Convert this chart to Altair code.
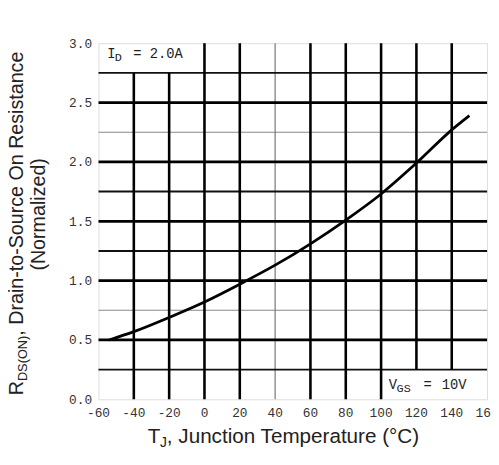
import altair as alt
import pandas as pd

# ---- data ----
temp_c = [-54, -40, -20, 0, 20, 40, 60, 80, 100, 120, 140, 150]
rds_norm = [0.50, 0.57, 0.69, 0.82, 0.97, 1.13, 1.31, 1.51, 1.73, 1.99, 2.27, 2.39]

x_ticks = [-60, -40, -20, 0, 20, 40, 60, 80, 100, 120, 140, 160]
y_ticks = [0.0, 0.5, 1.0, 1.5, 2.0, 2.5, 3.0]

# vertical grid lines (x value, lower / upper y extent in data units)
vgrid_x = [-40, -20, 0, 20, 60, 80, 100, 120, 140]
vgrid_lo = [0, 0, 0, 0, 0, 0, 0, 0.25, 0.25]
vgrid_hi = [2.75, 2.75, 3, 3, 3, 3, 3, 3, 3]
vgrid_light_x = [40]

hgrid_major = [0.5, 1.0, 1.5, 2.0, 2.5]
hgrid_minor = [0.25, 1.25, 1.75, 2.75]
hgrid_light = [0.75, 2.25]

X_MIN, X_MAX = -60, 160
Y_MIN, Y_MAX = 0, 3

curve_df = pd.DataFrame({"T": temp_c, "R": rds_norm})
xt_df = pd.DataFrame({"v": x_ticks, "label": [str(v) for v in x_ticks]})
vg_df = pd.DataFrame({"x": vgrid_x, "lo": vgrid_lo, "hi": vgrid_hi})
vl_df = pd.DataFrame({"x": vgrid_light_x, "lo": [Y_MIN], "hi": [Y_MAX]})
hmaj_df = pd.DataFrame({"y": hgrid_major, "x0": X_MIN, "x1": X_MAX})
hmin_df = pd.DataFrame({"y": hgrid_minor, "x0": X_MIN, "x1": X_MAX})
hl_df = pd.DataFrame({"y": hgrid_light, "x0": X_MIN, "x1": X_MAX})

xs = alt.Scale(domain=[X_MIN, X_MAX], nice=False, zero=False)
ys = alt.Scale(domain=[Y_MIN, Y_MAX], nice=False)

yaxis = alt.Axis(values=y_ticks, format=".1f", grid=False, ticks=False, domain=False,
                 title=None, labelFont="Liberation Mono", labelFontSize=13,
                 labelColor="#333", labelPadding=7, labelOverlap=False)

base_axes = alt.Chart(curve_df).mark_point(opacity=0).encode(
    x=alt.X("T:Q", scale=xs, axis=None),
    y=alt.Y("R:Q", scale=ys, axis=yaxis),
)

# x tick labels drawn through the x scale
xlabels = alt.Chart(xt_df).mark_text(font="Liberation Mono", fontSize=13, color="#333",
                                     baseline="middle", align="center").encode(
    x=alt.X("v:Q", scale=xs), y=alt.value(375.5), text="label:N")

vgrid = alt.Chart(vg_df).mark_rule(color="black", strokeWidth=2.6).encode(
    x=alt.X("x:Q", scale=xs), y=alt.Y("lo:Q", scale=ys), y2="hi:Q")
vlight = alt.Chart(vl_df).mark_rule(color="#777", strokeWidth=1.2).encode(
    x=alt.X("x:Q", scale=xs), y=alt.Y("lo:Q", scale=ys), y2="hi:Q")
hmaj = alt.Chart(hmaj_df).mark_rule(color="black", strokeWidth=2.8).encode(
    y=alt.Y("y:Q", scale=ys), x=alt.X("x0:Q", scale=xs), x2="x1:Q")
hmin = alt.Chart(hmin_df).mark_rule(color="#111", strokeWidth=2).encode(
    y=alt.Y("y:Q", scale=ys), x=alt.X("x0:Q", scale=xs), x2="x1:Q")
hl = alt.Chart(hl_df).mark_rule(color="#888", strokeWidth=1.2).encode(
    y=alt.Y("y:Q", scale=ys), x=alt.X("x0:Q", scale=xs), x2="x1:Q")

curve = alt.Chart(curve_df).mark_line(color="black", strokeWidth=2.8,
                                      interpolate="monotone").encode(
    x=alt.X("T:Q", scale=xs), y=alt.Y("R:Q", scale=ys))


def txt(s, x, y, size, font="Liberation Sans", align="left", angle=0, color="#222"):
    kw = dict(align=align, baseline="alphabetic", font=font, fontSize=size, color=color)
    if angle:
        kw["angle"] = angle
    return alt.Chart(alt.Data(values=[{}])).mark_text(**kw).encode(
        x=alt.value(x), y=alt.value(y), text=alt.value(s))


MONO = "Liberation Mono"
texts = [
    # x-axis title
    txt("T", 50, 406, 21),
    txt("J", 62.5, 410.5, 14),
    txt(", Junction Temperature (°C)", 69.5, 406, 21),
    # y-axis title
    txt("R", -76.5, 358, 20, angle=270),
    txt("DS(ON)", -73, 343.5, 13, angle=270),
    txt(", Drain-to-Source On Resistance", -76.5, 297.3, 20, angle=270),
    txt("(Normalized)", -54, 174, 20, align="center", angle=270),
    # in-plot labels
    txt("I", 9, 15, 14, font=MONO),
    txt("D", 16.5, 18, 12, font=MONO),
    txt("=", 39.5, 15, 14, font=MONO, align="center"),
    txt("2.0A", 52, 15, 14, font=MONO),
    txt("V", 295, 352, 14, font=MONO),
    txt("GS", 303, 355, 12, font=MONO),
    txt("=", 334.5, 352, 14, font=MONO, align="center"),
    txt("10V", 349, 352, 14, font=MONO),
]

chart = alt.layer(base_axes, hl, vlight, hmin, hmaj, vgrid, curve, xlabels, *texts).properties(
    width=395, height=362,
    autosize=alt.AutoSizeParams(type="none"),
    padding={"left": 92, "top": 32, "right": 4, "bottom": 63},
).configure_view(stroke="black", strokeWidth=3).configure(background="white")

chart.save("out.html", embed_options={"renderer": "svg", "actions": False})
